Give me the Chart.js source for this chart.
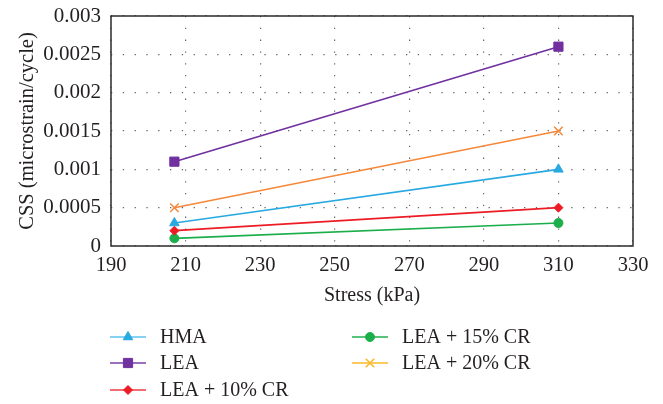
<!DOCTYPE html>
<html>
<head>
<meta charset="utf-8">
<script src="https://cdn.jsdelivr.net/npm/chart.js@4"></script>
<style>
html,body{margin:0;padding:0;background:#fff;}
#wrap{width:663px;height:404px;position:relative;}
</style>
</head>
<body>
<div id="wrap"><canvas id="c" width="663" height="404"></canvas></div>
<script>
const stress = [207, 310];
const hma = [0.0003, 0.0010];
const lea = [0.0011, 0.0026];
const lea10 = [0.0002, 0.0005];
const lea15 = [0.0001, 0.0003];
const lea20 = [0.0005, 0.0015];
const seriesNames = ['HMA', 'LEA', 'LEA + 10% CR', 'LEA + 15% CR', 'LEA + 20% CR'];
const xTicks = [190, 210, 230, 250, 270, 290, 310, 330];
const yTicks = [0, 0.0005, 0.001, 0.0015, 0.002, 0.0025, 0.003];

const FONT = "'Liberation Serif', 'Times New Roman', serif";

function pts(ys){ return stress.map((x,i)=>({x:x,y:ys[i]})); }

const styles = [
  {color:'#29A9E1', legendLine:'#5EC3EE', point:'triangle', r:5.5},
  {color:'#7030A0', legendLine:'#7A3FA8', point:'rect', r:6.5},
  {color:'#ED1C24', legendLine:'#EE3B42', point:'rectRot', r:4.5},
  {color:'#1BAE4B', legendLine:'#22B14C', point:'circle', r:4.5},
  {color:'#F5883A', legendLine:'#FDB827', point:'crossRot', r:6}
];
const seriesData = [hma, lea, lea10, lea15, lea20];

const datasets = seriesData.map((d,i)=>({
  label: seriesNames[i],
  data: pts(d),
  borderColor: styles[i].color,
  backgroundColor: styles[i].color,
  pointStyle: styles[i].point,
  pointRadius: styles[i].r,
  pointBorderWidth: styles[i].point==='crossRot'?1.5:1,
  borderWidth: 1.6,
  tension: 0
}));

const framePlugin = {
  id:'frame',
  afterDraw(chart){
    const {ctx, chartArea:a} = chart;
    ctx.save();
    ctx.strokeStyle = '#2b2b2b';
    ctx.lineWidth = 1.5;
    ctx.strokeRect(a.left, a.top, a.right-a.left, a.bottom-a.top);
    ctx.restore();
  }
};

const legendPlugin = {
  id:'customLegend',
  afterDraw(chart){
    const ctx = chart.ctx;
    ctx.save();
    ctx.font = '20px ' + FONT;
    ctx.textBaseline = 'middle';
    ctx.fillStyle = '#231f20';
    const cols = [110, 352];
    const rows = [337, 363, 390];
    const order = [[0,0,0],[0,1,1],[0,2,2],[1,0,3],[1,1,4]];
    order.forEach(([c,r,i])=>{
      const x = cols[c], y = rows[r];
      ctx.strokeStyle = styles[i].legendLine;
      ctx.lineWidth = 1.6;
      ctx.beginPath(); ctx.moveTo(x, y); ctx.lineTo(x+36, y); ctx.stroke();
      const mc = i===4 ? styles[i].legendLine : styles[i].color;
      ctx.fillStyle = mc; ctx.strokeStyle = mc;
      ctx.lineWidth = i===4 ? 1.5 : 1;
      Chart.helpers.drawPoint(ctx, {pointStyle: styles[i].point, radius: styles[i].r, rotation:0, borderWidth: ctx.lineWidth}, x+18, y);
      ctx.fillStyle = '#231f20';
      ctx.fillText(seriesNames[i], x+50, y+1);
    });
    ctx.restore();
  }
};

new Chart(document.getElementById('c'), {
  type:'line',
  data:{datasets},
  plugins:[framePlugin, legendPlugin],
  options:{
    responsive:false,
    animation:false,
    layout:{padding:{top:16, right:30, bottom:94, left:0}},
    plugins:{legend:{display:false}, tooltip:{enabled:false}},
    scales:{
      x:{
        type:'linear',
        min:190, max:330,
        afterBuildTicks(s){ s.ticks = xTicks.map(v=>({value:v})); },
        afterFit(s){ s.height = 64; s.paddingLeft = 0; s.paddingRight = 0; },
        grid:{color:'#666', lineWidth:1.2, drawTicks:false},
        border:{display:false, dash:[1.3,10.5]},
        ticks:{font:{family:FONT, size:20.5}, color:'#231f20', padding:7, maxRotation:0, autoSkip:false},
        title:{display:true, text:'Stress (kPa)', font:{family:FONT, size:20}, color:'#231f20', padding:{top:0,bottom:2}}
      },
      y:{
        type:'linear',
        min:0, max:0.003,
        afterBuildTicks(s){ s.ticks = yTicks.map(v=>({value:v})); },
        afterFit(s){ s.width = 111; s.paddingTop = 0; s.paddingBottom = 0; },
        grid:{color:'#666', lineWidth:1.2, drawTicks:false},
        border:{display:false, dash:[1.3,10.5]},
        ticks:{font:{family:FONT, size:21}, color:'#231f20', padding:10, autoSkip:false,
          callback:(v)=>String(+v.toFixed(4))},
        title:{display:true, text:'CSS (microstrain/cycle)', font:{family:FONT, size:20.5}, color:'#231f20', padding:{top:15,bottom:0}}
      }
    }
  }
});
</script>
</body>
</html>
